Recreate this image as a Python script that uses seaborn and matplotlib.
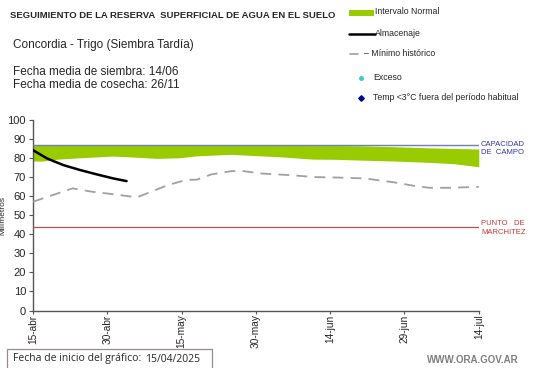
import matplotlib
matplotlib.use("Agg")
import matplotlib.pyplot as plt
import seaborn as sns
import pandas as pd
import numpy as np
from matplotlib.patches import Rectangle
from matplotlib.lines import Line2D

sns.set_style("white")
plt.rcParams['font.family'] = ['Liberation Sans', 'DejaVu Sans']

# ---- data (day offset from 15/04/2025) ----
tick_days = [0, 15, 30, 45, 60, 75, 90]
tick_labels = ["15-abr", "30-abr", "15-may", "30-may", "14-jun", "29-jun", "14-jul"]

band_days = [0, 2, 5, 9.5, 16, 19.5, 25, 29.6, 33, 40, 43, 50, 56.5, 61, 66, 73, 80, 85, 90]
band_low = [78.3, 78.3, 79.3, 80.0, 80.9, 80.5, 79.7, 80.0, 81.0, 81.8, 81.4, 80.5, 79.3, 79.2, 78.8, 78.3, 77.6, 76.9, 75.3]
band_high = [86.5, 86.5, 86.5, 86.5, 86.5, 86.5, 86.5, 86.5, 86.5, 86.5, 86.5, 86.5, 86.4, 86.4, 86.3, 85.8, 85.2, 84.9, 84.6]

alm_days = [0, 2.8, 6.1, 9.5, 12.9, 16.2, 18.9]
alm_vals = [84.0, 79.7, 76.2, 73.6, 71.3, 69.2, 67.8]

min_days = [0, 8, 12, 16, 21, 27, 31, 33, 36, 40, 42, 46, 52, 57, 61, 67, 73, 77, 80, 84, 90]
min_vals = [57.0, 64.0, 62.2, 61.0, 59.3, 65.5, 68.5, 68.5, 71.3, 73.0, 73.2, 71.8, 70.9, 69.9, 69.7, 69.2, 67.1, 65.3, 64.3, 64.3, 64.8]

capacidad = 86.5
marchitez = 44.0

fig = plt.figure(figsize=(5.41, 3.68), dpi=100)
ax = fig.add_axes([0.061, 0.156, 0.824, 0.519])

green = "#99cc00"
ax.fill_between(band_days, band_low, band_high, color=green, linewidth=0, zorder=2)
ax.plot([0, 90], [capacidad, capacidad], color="#6f7fb8", lw=1.0, zorder=3)
ax.plot([0, 90], [marchitez, marchitez], color="#c0504d", lw=0.9, zorder=3)

df_min = pd.DataFrame({"dia": min_days, "valor": min_vals})
df_alm = pd.DataFrame({"dia": alm_days, "valor": alm_vals})
sns.lineplot(data=df_min, x="dia", y="valor", ax=ax, color="#a0a0a0", lw=1.3,
             linestyle=(0, (6, 4)), zorder=4)
sns.lineplot(data=df_alm, x="dia", y="valor", ax=ax, color="black", lw=1.8, zorder=5)

ax.set_xlim(0, 90)
ax.set_ylim(0, 100)
ax.set_yticks(range(0, 101, 10))
ax.set_xticks(tick_days)
ax.set_xticklabels(tick_labels, rotation=90, fontsize=7.3)
ax.tick_params(axis='y', labelsize=8, length=3, width=0.8, color="#555555", pad=2, direction="out")
ax.tick_params(axis='x', length=2, width=0.8, color="#555555", pad=0.8, direction="out")
ax.tick_params(left=True, bottom=True)
ax.set_xlabel("")
ax.set_ylabel("Milímetros", fontsize=6)
ax.yaxis.set_label_coords(-27 / 446, 0.5)
for s in ["top", "right"]:
    ax.spines[s].set_visible(False)
for s in ["left", "bottom"]:
    ax.spines[s].set_color("#555555")
    ax.spines[s].set_linewidth(1.0)

# texts
def px(x, y):
    return x / 541, 1 - y / 368

fig.text(*px(10, 15), "SEGUIMIENTO DE LA RESERVA  SUPERFICIAL DE AGUA EN EL SUELO",
         fontsize=6.8, fontweight="bold", va="center", ha="left")
fig.text(*px(13, 45), "Concordia - Trigo (Siembra Tardía)", fontsize=8.5, va="center")
fig.text(*px(13, 72), "Fecha media de siembra: 14/06", fontsize=8.5, va="center")
fig.text(*px(13, 85), "Fecha media de cosecha: 26/11", fontsize=8.5, va="center")

# legend
lx = 375
fig.patches.append(Rectangle(px(349, 16), 25 / 541, 6 / 368, transform=fig.transFigure,
                             color=green, lw=0))
fig.text(*px(lx, 12), "Intervalo Normal", fontsize=6.3, va="center")
fig.lines.append(Line2D([349 / 541, 375 / 541], [1 - 34 / 368] * 2, transform=fig.transFigure,
                        color="black", lw=1.8))
fig.text(*px(lx, 34), "Almacenaje", fontsize=6.3, va="center")
fig.lines.append(Line2D([350 / 541, 358 / 541], [1 - 54 / 368] * 2, transform=fig.transFigure,
                        color="#a0a0a0", lw=1.2))
fig.text(*px(364, 54), "– Mínimo histórico", fontsize=6.3, va="center")
fig.lines.append(Line2D([361 / 541], [1 - 78 / 368], transform=fig.transFigure,
                        marker="o", markersize=2.5, color="#33cccc", lw=0))
fig.text(*px(373, 77), "Exceso", fontsize=6.3, va="center")
fig.lines.append(Line2D([361 / 541], [1 - 98 / 368], transform=fig.transFigure,
                        marker="D", markersize=2.8, color="#000099", lw=0))
fig.text(*px(373, 98), "Temp <3°C fuera del período habitual", fontsize=6.3, va="center")

# right labels
fig.text(*px(481, 141), "CAPACIDAD\nDE  CAMPO", fontsize=5.5, color="#3333aa", va="top",
         linespacing=1.3)
fig.text(*px(481, 220), "PUNTO   DE\nMARCHITEZ", fontsize=5.5, color="#cc3333", va="top",
         linespacing=1.3)

# bottom box
fig.patches.append(Rectangle(px(7, 369), 205 / 541, 20 / 368, transform=fig.transFigure,
                             facecolor="white", edgecolor="#9a8a8a", lw=0.9))
fig.text(*px(13, 359), "Fecha de inicio del gráfico:", fontsize=7.5, va="center",
         family=["Open Sans", "DejaVu Sans"])
fig.text(*px(145, 359), "15/04/2025", fontsize=7.5, va="center",
         family=["Open Sans", "DejaVu Sans"])

fig.text(*px(427, 360), "WWW.ORA.GOV.AR", fontsize=7, fontweight="bold",
         color="#7f7f7f", va="center")

fig.savefig("out.png", dpi=100)
